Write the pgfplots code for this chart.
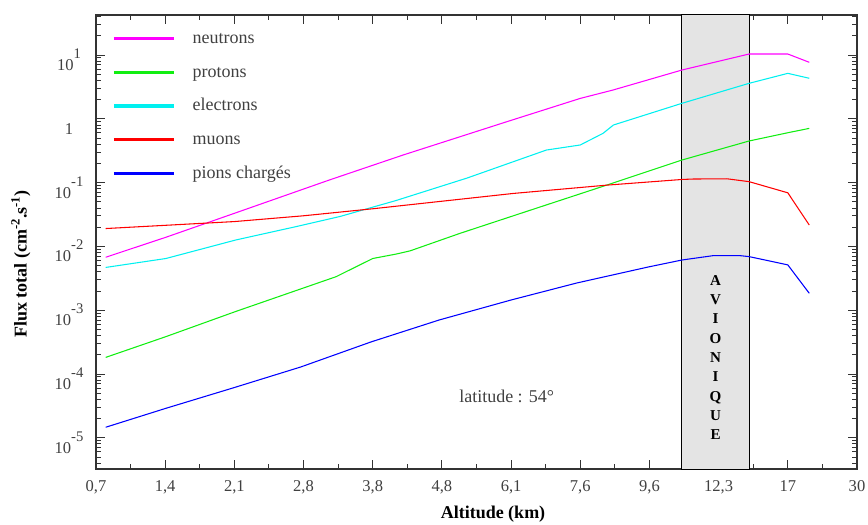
\documentclass[border=0pt]{standalone}
\usepackage{fontspec}
\setmainfont{Liberation Serif}
\usepackage{pgfplots}
\pgfplotsset{compat=1.18}

\definecolor{neut}{HTML}{FF00FF}
\definecolor{prot}{HTML}{11EE11}
\definecolor{elec}{HTML}{00F0F0}
\definecolor{muon}{HTML}{FF0000}
\definecolor{pion}{HTML}{0000FF}
\definecolor{band}{HTML}{E4E4E4}

\newcommand{\dix}[1]{10\raisebox{0.72em}{\fontsize{11}{11}\selectfont #1}}

\begin{document}
\begin{tikzpicture}
\begin{axis}[
  scale only axis, width=570.75pt, height=340.5pt,
  xmin=0, xmax=11,
  ymode=log, ymin=3.24e-6, ymax=42.4,
  xtick={0,...,11},
  xticklabels={{0,7},{1,4},{2,1},{2,8},{3,8},{4,8},{6,1},{7,6},{9,6},{12,3},{17},{30}},
  minor x tick num=1,
  ytick={1e-5,1e-4,1e-3,1e-2,1e-1,1,10},
  yticklabels={\dix{-5},\dix{-4},\dix{-3},\dix{-2},\dix{-1},1,\dix{1}},
  minor ytick={4e-6,5e-6,6e-6,7e-6,8e-6,9e-6,
    2e-5,3e-5,4e-5,5e-5,6e-5,7e-5,8e-5,9e-5,
    2e-4,3e-4,4e-4,5e-4,6e-4,7e-4,8e-4,9e-4,
    2e-3,3e-3,4e-3,5e-3,6e-3,7e-3,8e-3,9e-3,
    2e-2,3e-2,4e-2,5e-2,6e-2,7e-2,8e-2,9e-2,
    0.2,0.3,0.4,0.5,0.6,0.7,0.8,0.9,
    2,3,4,5,6,7,8,9,20,30,40},
  tick align=inside,
  major tick length=7pt, minor tick length=4pt,
  axis line style={black!80, line width=0.8pt},
  every tick/.style={black!80, line width=0.7pt},
  tick label style={font=\fontsize{12.4}{14}\selectfont, text=black!75},
  xticklabel style={anchor=base, yshift=-16.5pt},
  yticklabel style={anchor=base, xshift=-20.25pt, yshift=-11.6pt},
  xlabel={Altitude (km)},
  xlabel style={font=\bfseries\fontsize{13.5}{15}\selectfont,
    at={(axis description cs:0.5217,-0.110)}, anchor=base},
  ylabel={Flux total (cm\textsuperscript{-2}.s\textsuperscript{-1})},
  ylabel style={font=\bfseries\fontsize{13.5}{15}\selectfont,
    at={(axis description cs:-0.0986,0.4515)}, anchor=center},
  legend cell align=left,
  legend style={draw=none, fill=none, at={(0,1)}, anchor=north west,
    xshift=12pt, yshift=-9pt, inner sep=0pt, row sep=8.3pt,
    nodes={font=\fontsize{13.5}{15}\selectfont, text=black!75,
      text height=10pt, text depth=3pt, inner sep=2pt}},
  legend image code/.code={
    \draw[line width=2.5pt] (0pt,0pt) -- (44.8pt,0pt);
    \path[draw=none] (0pt,0pt) -- (57pt,0pt);},
  every axis plot/.append style={line width=0.8pt, mark=none},
]

% bande avionique
\addplot[fill=band, draw=black, line width=0.75pt, forget plot]
  coordinates {(8.47,3.24e-6) (8.47,42.4) (9.44,42.4) (9.44,3.24e-6)} -- cycle;

\addplot[neut] coordinates {
  (0.14,6.76e-3) (1.01,1.39e-2) (2.0,3.30e-2) (3.37,0.1096) (4.44,0.271)
  (5.94,0.902) (7.0,2.09) (7.47,2.82) (8.47,5.82) (9.44,10.37) (10.0,10.37)
  (10.31,7.69)};
\addlegendentry{neutrons}

\addplot[prot] coordinates {
  (0.14,1.82e-4) (1.01,3.85e-4) (2.02,9.55e-4) (3.47,3.35e-3) (4.0,6.46e-3)
  (4.34,7.59e-3) (4.54,8.51e-3) (5.26,1.60e-2) (6.51,4.47e-2) (7.38,9.12e-2)
  (8.47,0.226) (9.44,0.449) (10.0,0.605) (10.31,0.708)};
\addlegendentry{protons}

\addplot[elec] coordinates {
  (0.14,4.68e-3) (1.01,6.46e-3) (2.02,1.26e-2) (2.89,2.04e-2) (3.53,2.95e-2)
  (4.34,5.25e-2) (5.36,0.1175) (6.51,0.324) (7.0,0.389) (7.33,0.593)
  (7.48,0.80) (8.47,1.75) (9.44,3.60) (10.0,5.16) (10.31,4.32)};
\addlegendentry{electrons}

\addplot[muon] coordinates {
  (0.14,1.905e-2) (2.0,2.45e-2) (3.0,3.02e-2) (4.0,3.89e-2) (6.03,6.76e-2)
  (7.38,9.12e-2) (8.47,0.112) (8.63,0.1138) (9.12,0.1148) (9.44,0.1035)
  (10.0,6.92e-2) (10.31,2.16e-2)};
\addlegendentry{muons}

\addplot[pion] coordinates {
  (0.14,1.462e-5) (1.01,2.897e-5) (1.98,6.04e-5) (2.96,1.288e-4) (3.975,3.18e-4)
  (4.96,7.02e-4) (6.0,1.445e-3) (6.95,2.67e-3) (7.98,4.75e-3) (8.47,6.12e-3)
  (8.92,7.16e-3) (9.31,7.16e-3) (9.44,6.92e-3) (10.0,5.13e-3) (10.31,1.84e-3)};
\addlegendentry{pions chargés}

\node[anchor=base, font=\fontsize{13.5}{15}\selectfont, text=black!75]
  at (axis cs:5.935,3.63e-5) {latitude : 54°};
\node[align=center, font=\bfseries\fontsize{11.3}{14.5}\selectfont]
  at (axis cs:8.955,1.82e-4) {A\\V\\I\\O\\N\\I\\Q\\U\\E};
\end{axis}
\pgfresetboundingbox
\path ([xshift=-72pt, yshift=-42pt]current axis.south west)
  rectangle ([xshift=8.25pt, yshift=11.25pt]current axis.north east);
\end{tikzpicture}
\end{document}
